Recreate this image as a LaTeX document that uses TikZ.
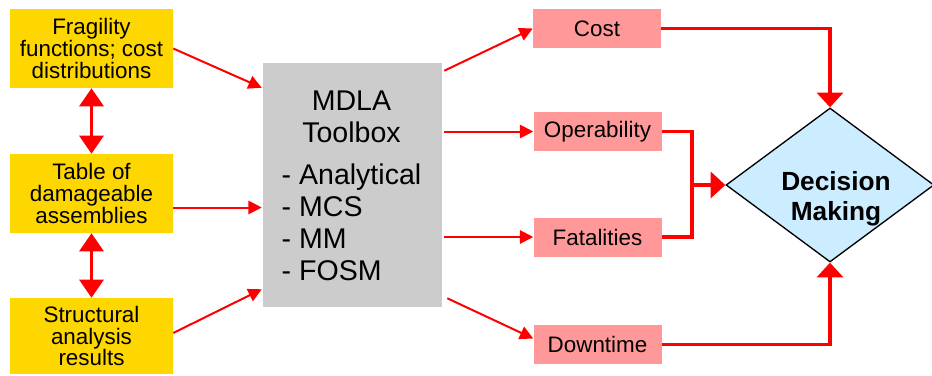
\documentclass[tikz,border=0pt]{standalone}
\usepackage{fontspec}
\setmainfont{Liberation Sans}
\usetikzlibrary{arrows.meta,shapes.geometric,calc}

\definecolor{inputyellow}{RGB}{255,215,0}
\definecolor{toolgrey}{RGB}{204,204,204}
\definecolor{outpink}{RGB}{255,153,153}
\definecolor{decideblue}{RGB}{204,236,255}

\tikzset{
	inbox/.style={fill=inputyellow, minimum width=122.25pt, minimum height=59.25pt, inner sep=0pt, align=center, font=\fontsize{16.8}{16.3}\selectfont},
	outbox/.style={fill=outpink, minimum width=96pt, minimum height=29.25pt, inner sep=0pt, font=\fontsize{16.8}{16.3}\selectfont},
	toolbox/.style={fill=toolgrey, minimum width=134.25pt, minimum height=183pt, inner sep=0pt},
	tooltext/.style={align=center, inner sep=0pt, font=\fontsize{21.4}{24}\selectfont},
	decision/.style={diamond, draw=black, line width=1pt, fill=decideblue, minimum width=156pt, minimum height=115.5pt, inner sep=0pt, aspect=1.35},
	decidetext/.style={align=center, inner sep=0pt, font=\bfseries\fontsize{19.7}{22.5}\selectfont},
	flow/.style={red, line width=1.5pt, -{Triangle[length=10pt,width=10pt]}},
	linkboth/.style={red, line width=2.25pt, {Triangle[length=13.5pt,width=18pt]}-{Triangle[length=13.5pt,width=18pt]}},
	joinline/.style={red, line width=2.5pt},
	feed/.style={joinline, -{Triangle[length=11pt,width=19.5pt]}}
}

\begin{document}
\begin{tikzpicture}[x=0.75pt,y=-0.75pt]
	\useasboundingbox (0,0) rectangle (932,375);

	% inputs
	\node[inbox] (frag) at (91.5,48.5) {Fragility\\functions; cost\\distributions};
	\node[inbox] (table) at (91.5,193.5) {Table of\\damageable\\assemblies};
	\node[inbox, minimum height=57pt] (struct) at (91.5,336) {Structural\\analysis\\results};

	\draw[linkboth] (frag.south) -- (table.north);
	\draw[linkboth] (table.south) -- (struct.north);

	% toolbox
	\node[toolbox] (mdla) at (352.5,185) {};
	\node[tooltext] (mdlatext) at ($(mdla)+(-1,5)$) {MDLA\\Toolbox\\[7.5pt]\begin{tabular}[t]{@{}l@{}}- Analytical\\- MCS\\- MM\\- FOSM\end{tabular}};

	\draw[flow] (frag.east) -- ($(mdla.north west)+(-1,25)$);
	\draw[flow] ($(table.east)+(0,14)$) coordinate (tabout) -- ($(tabout -| mdla.west)+(-1,0)$);
	\draw[flow] ($(struct.east)+(0,-3)$) -- ($(mdla.south west)+(-1,-18)$);

	% outputs
	\node[outbox] (cost) at (597,28.5) {Cost};
	\node[outbox] (oper) at (597.5,131.5) {Operability};
	\node[outbox] (fatal) at (597.5,237) {Fatalities};
	\node[outbox] (down) at (597.5,344.5) {Downtime};

	\draw[flow] ($(mdla.north east)+(2,8)$) -- (cost.west);
	\draw[flow, shorten <=1.5pt] (mdla.east |- oper.west) -- (oper.west);
	\draw[flow, shorten <=1.5pt] (mdla.east |- fatal.west) -- (fatal.west);
	\draw[flow] ($(mdla.south east)+(5,-9)$) -- ($(down.west)+(0,-6)$);

	% decision
	\node[decision] (decide) at (830,185) {};
	\node[decidetext] (decidelabel) at ($(decide)+(6,14)$) {Decision\\Making};

	\coordinate (joint) at (692,185);
	\draw[joinline] (oper.east) -| (joint) |- (fatal.east);
	\draw[feed] (joint) -- (decide.west);
	\draw[feed] (cost.east) -| (decide.north);
	\draw[feed] (down.east) -| (decide.south);
\end{tikzpicture}
\end{document}
